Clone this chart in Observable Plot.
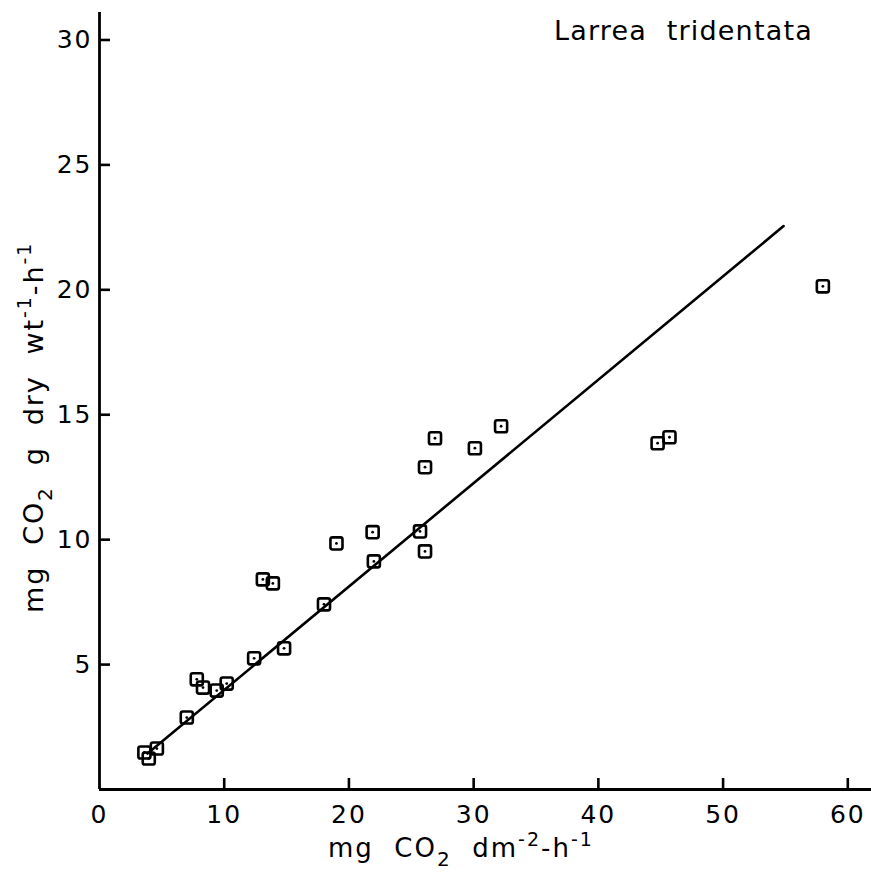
<!DOCTYPE html>
<html>
<head>
<meta charset="utf-8">
<script src="https://cdn.jsdelivr.net/npm/d3@7"></script>
<script src="https://cdn.jsdelivr.net/npm/@observablehq/plot@0.6"></script>
<style>
  body { margin: 0; background: #fff; }
  #chart svg { display: block; }
</style>
</head>
<body>
<div id="chart"></div>
<script>
// Observations: leaf-area based vs dry-weight based photosynthesis (Larrea tridentata)
const areaRate = [3.6, 3.95, 4.6, 7.0, 7.8, 8.3, 9.4, 10.2, 12.4, 13.1, 13.9, 14.8, 18.0, 19.0,
                  21.9, 22.0, 25.7, 26.1, 26.1, 26.9, 30.1, 32.2, 44.75, 45.7, 58.0];
const weightRate = [1.48, 1.24, 1.64, 2.88, 4.41, 4.08, 3.96, 4.24, 5.25, 8.41, 8.25, 5.65, 7.41, 9.85,
                    10.3, 9.13, 10.33, 9.53, 12.9, 14.06, 13.66, 14.54, 13.86, 14.1, 20.14];
// Fitted regression line end points
const fitX = [3.85, 54.85];
const fitY = [1.44, 22.55];
// Axis ticks
const xTicks = [0, 10, 20, 30, 40, 50, 60];
const yTicks = [5, 10, 15, 20, 25, 30];
const speciesName = "Larrea  tridentata";

const points = areaRate.map((x, i) => ({x, y: weightRate[i]}));
const fitLine = fitX.map((x, i) => ({x, y: fitY[i]}));

// rounded square symbol
const roundedSquare = {
  draw(context, size) {
    const s = Math.sqrt(size) / 2;
    const r = s * 0.35;
    context.moveTo(-s + r, -s);
    context.lineTo(s - r, -s);
    context.arcTo(s, -s, s, -s + r, r);
    context.lineTo(s, s - r);
    context.arcTo(s, s, s - r, s, r);
    context.lineTo(-s + r, s);
    context.arcTo(-s, s, -s, s - r, r);
    context.lineTo(-s, -s + r);
    context.arcTo(-s, -s, -s + r, -s, r);
    context.closePath();
  }
};

const FONT = "DejaVu Sans";
const W = 871, H = 873, ML = 99, MR = 0, MT = 12, MB = 84;
const xDomain = [0, 61.9], yDomain = [0, 31.1];
const TICK_PX = 11;
// tick length converted to data units so the ticks point inward
const tickLenY = TICK_PX * (yDomain[1] - yDomain[0]) / (H - MT - MB);
const tickLenX = TICK_PX * (xDomain[1] - xDomain[0]) / (W - ML - MR);

const plot = Plot.plot({
  width: W,
  height: H,
  marginLeft: ML,
  marginRight: MR,
  marginTop: MT,
  marginBottom: MB,
  style: {fontFamily: FONT, fontSize: "25px", background: "#fff", color: "#000"},
  x: {domain: xDomain, label: null},
  y: {domain: yDomain, label: null},
  marks: [
    Plot.axisX(xTicks, {tickSize: 0, tickPadding: 16, fontSize: 25, label: null, tickFormat: d => String(d)}),
    Plot.axisY(yTicks, {tickSize: 0, tickPadding: 7, fontSize: 25, label: null, tickFormat: d => String(d)}),
    // inward ticks
    Plot.ruleX(xTicks.filter(d => d > 0), {x: d => d, y1: 0, y2: tickLenY, stroke: "#000", strokeWidth: 2.6}),
    Plot.ruleY(yTicks, {y: d => d, x1: 0, x2: tickLenX, stroke: "#000", strokeWidth: 2.6}),
    Plot.ruleX([0], {stroke: "#000", strokeWidth: 2.8}),
    Plot.ruleY([0], {stroke: "#000", strokeWidth: 2.8}),
    Plot.line(fitLine, {x: "x", y: "y", stroke: "#000", strokeWidth: 2.6}),
    Plot.dot(points, {x: "x", y: "y", symbol: roundedSquare, r: 6.8, stroke: "#000", strokeWidth: 2.6, fill: "none"}),
    Plot.dot(points, {x: "x", y: "y", r: 1.4, fill: "#000", stroke: "none"})
  ]
});

document.getElementById("chart").appendChild(plot);

const svg = d3.select(plot);
// slightly wider lettering on tick labels, like the reference
svg.selectAll('g[aria-label$="tick label"]').attr("letter-spacing", 2);

// Title (species)
svg.append("text")
  .attr("x", 813).attr("y", 40)
  .attr("text-anchor", "end")
  .attr("font-family", FONT).attr("font-size", 27)
  .attr("letter-spacing", 1.2)
  .attr("fill", "#000")
  .attr("xml:space", "preserve")
  .text(speciesName);

// x-axis label: mg CO2 dm-2-h-1
const xl = svg.append("text")
  .attr("x", 328).attr("y", 857)
  .attr("text-anchor", "start")
  .attr("font-family", FONT).attr("font-size", 26)
  .attr("letter-spacing", 2)
  .attr("fill", "#000")
  .attr("xml:space", "preserve");
xl.append("tspan").text("mg  CO");
xl.append("tspan").attr("dy", 9).attr("font-size", 20).text("2");
xl.append("tspan").attr("dy", -9).text("  dm");
xl.append("tspan").attr("dy", -11).attr("font-size", 19).text("-2");
xl.append("tspan").attr("dy", 11).text("-h");
xl.append("tspan").attr("dy", -11).attr("font-size", 19).text("-1");

// y-axis label: mg CO2 g dry wt-1-h-1
const yl = svg.append("text")
  .attr("transform", "translate(43,613) rotate(-90)")
  .attr("text-anchor", "start")
  .attr("font-family", FONT).attr("font-size", 27)
  .attr("letter-spacing", 1.9)
  .attr("fill", "#000")
  .attr("xml:space", "preserve");
yl.append("tspan").text("mg  CO");
yl.append("tspan").attr("dy", 9).attr("font-size", 20).text("2");
yl.append("tspan").attr("dy", -9).text("  g  dry  wt");
yl.append("tspan").attr("dy", -12).attr("font-size", 19).text("-1");
yl.append("tspan").attr("dy", 12).text("-h");
yl.append("tspan").attr("dy", -12).attr("font-size", 19).text("-1");
</script>
</body>
</html>
